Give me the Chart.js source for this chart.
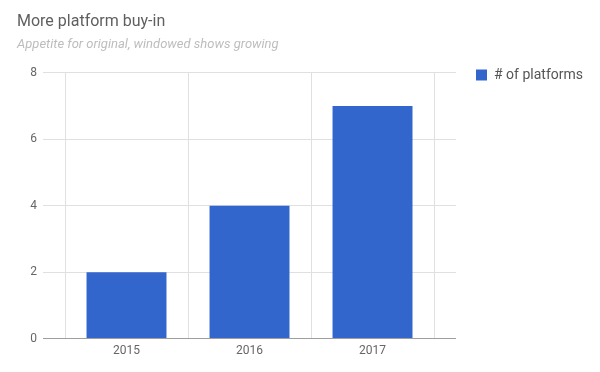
<!DOCTYPE html>
<html>
<head>
<meta charset="utf-8">
<script src="https://cdn.jsdelivr.net/npm/chart.js@4/dist/chart.umd.min.js"></script>
<style>
  html,body{margin:0;padding:0;background:#fff}
  #wrap{width:600px;height:372px}
</style>
</head>
<body>
<div id="wrap"><canvas id="chartPlatforms"></canvas></div>
<script>
const years = ['2015','2016','2017'];
const platforms = [2,4,7];
const yTicks = [0,2,4,6,8];

const gridCol = '#e0e0e0';
const baseCol = '#9e9e9e';
const textCol = '#666';

const c = document.getElementById('chartPlatforms');
new Chart(c,{
  type:'bar',
  data:{labels:years,datasets:[{label:'# of platforms',data:platforms,
    backgroundColor:'#3366cc',borderWidth:0,barPercentage:0.65,categoryPercentage:1}]},
  options:{
    responsive:true,maintainAspectRatio:false,animation:false,
    layout:{padding:{left:17,right:7,top:12,bottom:9}},
    plugins:{
      title:{display:true,text:'More platform buy-in',align:'start',color:'#5f5f5f',
        font:{family:'Roboto',size:16,weight:'normal'},padding:{top:0,bottom:6}},
      subtitle:{display:true,text:'Appetite for original, windowed shows growing',align:'start',color:'#bdbdbd',
        font:{family:'Roboto',size:13,style:'italic'},padding:{top:0,bottom:10}},
      legend:{position:'right',align:'start',fullSize:true,maxWidth:160,
        // empty legend title only used as a spacer so the item sits level with the top gridline
        title:{display:true,text:'',font:{size:10},padding:{top:37,bottom:0}},
        labels:{boxWidth:11,boxHeight:11,padding:7,color:'#555',font:{family:'Roboto',size:14}}},
      tooltip:{enabled:false}
    },
    scales:{
      x:{grid:{color:gridCol,drawTicks:false,offset:true},border:{display:false},
        ticks:{color:textCol,padding:5,font:{family:'Roboto',size:12}}},
      top:{type:'category',position:'top',labels:years,
        grid:{display:false},border:{display:false},ticks:{display:false},
        afterFit(s){s.height=10;}},
      y:{min:0,max:8,
        afterBuildTicks(s){s.ticks=yTicks.map(v=>({value:v}));},
        afterFit(s){s.width=48;},
        grid:{color:ctx=>ctx.tick&&ctx.tick.value===0?baseCol:gridCol,tickLength:22},
        border:{display:false},
        ticks:{color:textCol,padding:6,font:{family:'Roboto',size:12}}},
      y2:{position:'right',min:0,max:8,
        afterBuildTicks(s){s.ticks=yTicks.map(v=>({value:v}));},
        afterFit(s){s.width=35;},
        grid:{drawOnChartArea:false,color:ctx=>ctx.tick&&ctx.tick.value===0?baseCol:gridCol,tickLength:22},
        border:{display:false},
        ticks:{display:false}}
    }
  }
});
</script>
</body>
</html>
